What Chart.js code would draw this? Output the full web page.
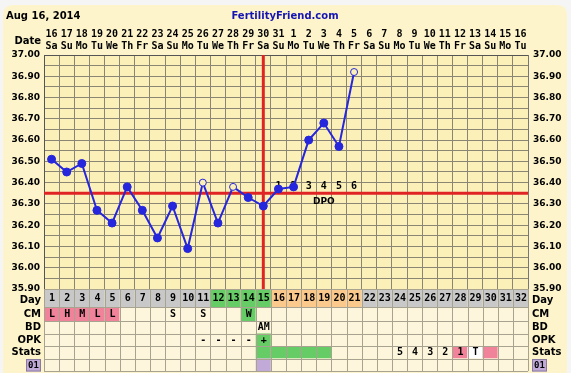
<!DOCTYPE html>
<html><head><meta charset="utf-8">
<script src="https://cdn.jsdelivr.net/npm/chart.js@4.4.1/dist/chart.umd.min.js"></script>
<style>html,body{margin:0;padding:0;background:#f5f5f5;} canvas{display:block}</style>
</head><body>
<canvas id="c" width="571" height="373"></canvas>
<script>
// ---------- data ----------
const headerDate = 'Aug 16, 2014';
const siteName = 'FertilityFriend.com';
const dates = ['16','17','18','19','20','21','22','23','24','25','26','27','28','29','30','31',
               '1','2','3','4','5','6','7','8','9','10','11','12','13','14','15','16'];
const dows = ['Sa','Su','Mo','Tu','We','Th','Fr','Sa','Su','Mo','Tu','We','Th','Fr','Sa','Su',
              'Mo','Tu','We','Th','Fr','Sa','Su','Mo','Tu','We','Th','Fr','Sa','Su','Mo','Tu'];
const cycleDays = ['1','2','3','4','5','6','7','8','9','10','11','12','13','14','15','16',
                   '17','18','19','20','21','22','23','24','25','26','27','28','29','30','31','32'];
const temps = [36.51,36.45,36.49,36.27,36.21,36.38,36.27,36.14,36.29,36.09,36.40,36.21,36.38,36.33,36.29,36.37,
               36.38,36.60,36.68,36.57,36.92,null,null,null,null,null,null,null,null,null,null,null];
const openPoint = [0,0,0,0,0,0,0,0,0,0,1,0,1,0,0,0,0,0,0,0,1,0,0,0,0,0,0,0,0,0,0,0];
const coverline = 36.35;
const ovulationDay = 15;
const dpoLabels = ['1','2','3','4','5','6'];       // cycle days 16..21
const dpoStartDay = 16;
const yMin = 35.90, yMax = 37.00, yStep = 0.05;
// phase per cycle day: g = neutral, f = fertile, l = post-ovulation
const dayPhase = ['g','g','g','g','g','g','g','g','g','g','g','f','f','f','f','l',
                  'l','l','l','l','l','g','g','g','g','g','g','g','g','g','g','g'];
const cm   = ['L','H','M','L','L','','','','S','','S','','','W','','', '','','','','','','','','','','','','','','',''];
const bd   = ['','','','','','','','','','','','','','','AM','', '','','','','','','','','','','','','','','',''];
const opk  = ['','','','','','','','','','','-','-','-','-','+','', '','','','','','','','','','','','','','','',''];
const stats= ['','','','','','','','','','','','','','','','', '','','','','','','','5','4','3','2','1','T','','',''];
const statsMark = ['','','','','','','','','','','','','','','g','g', 'g','g','g','','','','','','','','','p','w','p','',''];
const row01Mark = ['','','','','','','','','','','','','','','v','', '','','','','','','','','','','','','','','',''];
const rowLabels = ['Day','CM','BD','OPK','Stats','01'];

// ---------- styles ----------
const FONT = 'DejaVu Sans';
const MONO = 'DejaVu Sans Mono';
const C = {
  outer:'#f5f5f5', card:'#fdf4cb', plot:'#fcf0b9', cell:'#fdf6dc', grid:'#8a8574', tgrid:'#a8a290',
  gray:'#c8c8c8', green:'#66cc66', orange:'#fcc98c', pink:'#f0829a', white:'#ffffff', purple:'#c2aad8',
  red:'#e02424', blue:'#2626dc'
};
const cmColor = {L:C.pink,H:C.pink,M:C.pink,W:C.green};
const markColor = {g:C.green,p:C.pink,w:C.white,v:C.purple};
const phaseColor = {g:C.gray,f:C.green,l:C.orange};

function rr(ctx,x,y,w,h,r){ctx.beginPath();ctx.moveTo(x+r,y);ctx.lineTo(x+w-r,y);ctx.quadraticCurveTo(x+w,y,x+w,y+r);
  ctx.lineTo(x+w,y+h);ctx.lineTo(x,y+h);ctx.lineTo(x,y+r);ctx.quadraticCurveTo(x,y,x+r,y);ctx.closePath();}

const bgPlugin = {
  id:'bg',
  beforeDraw(chart){
    const {ctx, chartArea:a} = chart;
    ctx.save();
    ctx.fillStyle=C.outer; ctx.fillRect(0,0,chart.width,chart.height);
    ctx.fillStyle=C.card; rr(ctx,3,5,chart.width-7,chart.height,10); ctx.fill();
    ctx.fillStyle=C.plot; ctx.fillRect(a.left,a.top,a.right-a.left,a.bottom-a.top);
    ctx.textBaseline='middle';
    ctx.font='bold 10px "'+FONT+'"'; ctx.fillStyle='#000'; ctx.textAlign='left';
    ctx.fillText(headerDate,6,16);
    ctx.fillStyle='#1414b4'; ctx.textAlign='center';
    ctx.fillText(siteName,285,16);
    ctx.fillStyle='#000'; ctx.textAlign='right'; ctx.font='bold 10px "'+FONT+'"';
    ctx.fillText('Date',41,41);
    ctx.restore();
  },
  beforeDatasetsDraw(chart){
    const {ctx, chartArea:a, scales:{x,y}} = chart;
    ctx.save();
    ctx.strokeStyle=C.red; ctx.lineWidth=3;
    const cy=y.getPixelForValue(coverline);
    ctx.beginPath(); ctx.moveTo(a.left,cy); ctx.lineTo(a.right,cy); ctx.stroke();
    const ox=x.getPixelForValue(ovulationDay-1);
    ctx.beginPath(); ctx.moveTo(ox,a.top); ctx.lineTo(ox,a.bottom); ctx.stroke();
    ctx.fillStyle='#000'; ctx.font='bold 10px "'+MONO+'"'; ctx.textAlign='center'; ctx.textBaseline='middle';
    dpoLabels.forEach((t,i)=>ctx.fillText(t,x.getPixelForValue(dpoStartDay-1+i),cy-7));
    const mid=x.getPixelForValue(dpoStartDay-1+Math.floor(dpoLabels.length/2));
    ctx.font='bold 9px "'+FONT+'"';
    ctx.fillText('DPO',mid,cy+8);
    ctx.restore();
  },
  afterDraw(chart){
    const {ctx, chartArea:a, scales:{x}} = chart;
    const n=cycleDays.length, cw=(a.right-a.left)/n;
    const heights=[18,14,12.5,12.5,12.5,12.5];
    const rows=[
      {text:cycleDays, color:i=>phaseColor[dayPhase[i]], size:10},
      {text:cm, color:i=>cmColor[cm[i]], size:10},
      {text:bd, color:()=>null, size:10},
      {text:opk, color:i=>opk[i]==='+'?C.green:null, size:10},
      {text:stats, color:i=>markColor[statsMark[i]], size:10},
      {text:cycleDays.map(()=>''), color:i=>markColor[row01Mark[i]], size:10}
    ];
    ctx.save();
    let yy=a.bottom;
    const tops=[];
    rows.forEach((row,r)=>{
      const h=heights[r]; tops.push(yy);
      for(let i=0;i<n;i++){
        const cx=x.getPixelForValue(i), l=cx-cw/2;
        ctx.fillStyle=row.color(i)||C.cell;
        ctx.fillRect(l,yy,cw,h);
        if(row.text[i]){
          ctx.fillStyle='#000'; ctx.font='bold '+row.size+'px "'+MONO+'"';
          ctx.textAlign='center'; ctx.textBaseline='middle';
          ctx.fillText(row.text[i],cx+0.5,yy+h/2+0.5);
        }
      }
      yy+=h;
    });
    tops.push(yy);
    ctx.strokeStyle=C.tgrid; ctx.lineWidth=1;
    tops.forEach(t=>{ctx.beginPath();ctx.moveTo(a.left,Math.round(t)+0.5);ctx.lineTo(a.right,Math.round(t)+0.5);ctx.stroke();});
    for(let i=0;i<=n;i++){
      const l=Math.round(x.getPixelForValue(Math.min(i,n-1))+(i===n?cw/2:-cw/2))+0.5;
      ctx.beginPath();ctx.moveTo(l,a.bottom);ctx.lineTo(l,yy);ctx.stroke();
    }
    // row labels
    ctx.fillStyle='#000'; ctx.textBaseline='middle';
    rowLabels.forEach((lab,r)=>{
      const cyy=tops[r]+heights[r]/2+0.5;
      ctx.font='bold 10px "'+FONT+'"';
      if(lab==='01'){
        ctx.fillStyle=C.purple; ctx.fillRect(26,tops[r]+0.5,15,heights[r]); ctx.fillRect(532,tops[r]+0.5,15,heights[r]);
        ctx.strokeStyle='#8a7aa0'; ctx.strokeRect(26.5,tops[r]+1,14,heights[r]-1); ctx.strokeRect(532.5,tops[r]+1,14,heights[r]-1);
        ctx.fillStyle='#000'; ctx.font='bold 9px "'+MONO+'"';
        ctx.textAlign='center'; ctx.fillText(lab,33.5,cyy); ctx.fillText(lab,539.5,cyy);
      } else {
        ctx.textAlign='right'; ctx.fillText(lab,41,cyy+(r===0?2:0));
        ctx.textAlign='left'; ctx.fillText(lab,532,cyy+(r===0?2:0));
      }
    });
    ctx.restore();
  }
};

const yTicks = {
  stepSize:yStep, autoSkip:false, color:'#000',
  font:{family:FONT, weight:'bold', size:9},
  callback:v=>Math.round(v*100)%10===0 ? v.toFixed(2) : ''
};

new Chart(document.getElementById('c'),{
  type:'line',
  data:{
    labels:cycleDays,
    datasets:[{
      data:temps,
      borderColor:C.blue, borderWidth:2, tension:0, spanGaps:false,
      pointRadius:openPoint.map(o=>o?3.5:4),
      pointBackgroundColor:openPoint.map(o=>o?C.plot:C.blue),
      pointBorderColor:C.blue, pointBorderWidth:1
    }]
  },
  options:{
    responsive:false, animation:false, devicePixelRatio:1,
    layout:{padding:{left:0,right:0,top:0,bottom:84}},
    plugins:{legend:{display:false}, tooltip:{enabled:false}},
    scales:{
      x:{
        type:'category', position:'top', offset:true,
        grid:{offset:true, color:C.grid, drawTicks:false},
        border:{color:'#555'},
        ticks:{autoSkip:false, maxRotation:0, padding:3, color:'#000',
          font:{family:MONO, weight:'bold', size:10, lineHeight:1.15},
          callback:(v,i)=>[dates[i],dows[i]]},
        afterFit:s=>{s.height=55;}
      },
      y:{
        position:'left', min:yMin, max:yMax,
        grid:{color:C.grid, drawTicks:false},
        border:{color:'#555'},
        ticks:Object.assign({padding:4},yTicks),
        afterFit:s=>{s.width=44;}
      },
      y2:{
        position:'right', min:yMin, max:yMax,
        grid:{display:false, drawTicks:false},
        border:{color:'#777'},
        ticks:Object.assign({padding:5},yTicks),
        afterFit:s=>{s.width=43;}
      }
    }
  },
  plugins:[bgPlugin]
});
</script>
</body></html>
